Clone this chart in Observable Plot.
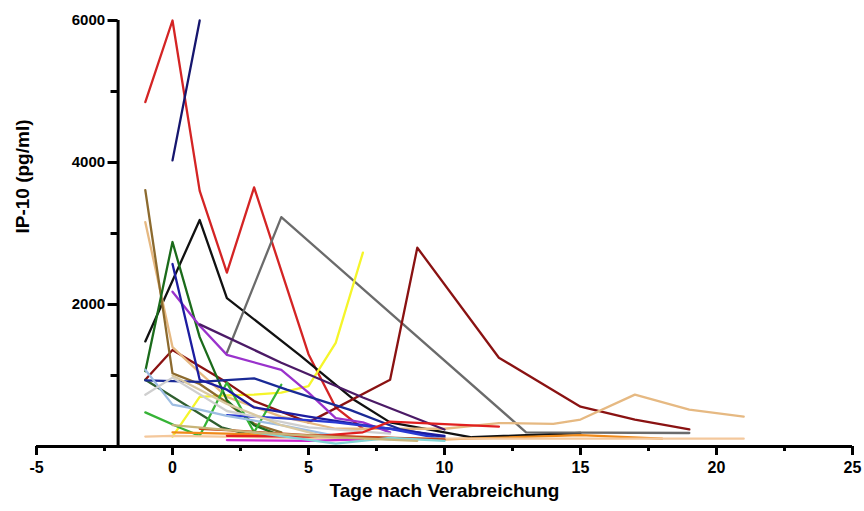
<!DOCTYPE html>
<html><head><meta charset="utf-8">
<script src="https://cdn.jsdelivr.net/npm/d3@7"></script>
<script src="https://cdn.jsdelivr.net/npm/@observablehq/plot@0.6"></script>
<style>body{margin:0;background:#fff}</style>
</head><body><div id="chart"></div>
<script>
// one entry per patient series: days after administration and IP-10 values
const seriesDays = [
  [-1, 0, 1, 2, 3, 5, 6, 7],                 // red
  [0, 1],                                     // navy
  [-1, 1, 2, 4.7, 6.7, 8, 10, 11, 15],        // black
  [2, 4, 13, 19],                             // gray
  [0, 1, 2, 3, 4, 5, 6, 7],                   // yellow
  [-1, 0, 2, 3, 5, 8, 9, 12, 15, 17, 19],     // maroon
  [-1, 0, 1, 2, 4, 6, 10, 12, 14, 15, 17, 19, 21], // sandy tan
  [-1, 0, 1, 2, 3, 4],                        // brown
  [-1, 0, 1, 2, 3, 4],                        // dark green
  [-1, 1.8, 3],                               // dark green 2
  [-1, 0.3, 1, 2, 3, 4],                      // bright green
  [0, 1, 2, 4, 5, 6, 7, 8],                   // violet
  [1, 4, 7, 10],                              // dark purple
  [-1, 1, 3, 4.2, 6.5, 8.4, 10],              // navy 2
  [0, 1, 2, 3, 5, 7, 10],                     // blue
  [2, 4, 6, 8, 10],                           // royal blue
  [-1, 0, 1, 2, 4, 6, 8],                     // light blue
  [-1, 0, 2, 5, 8],                           // light gray
  [0, 2, 4, 6],                               // beige
  [0, 2, 5, 10, 15, 18],                      // orange
  [-1, 0, 5, 10, 15, 21],                     // peach
  [2, 5, 7, 8, 12],                           // red 2
  [2, 5, 7],                                  // magenta
  [1, 2, 5, 10],                              // rust
  [3, 6, 8, 10],                              // cyan
  [0, 3, 6, 9]                                // olive
];
const seriesValues = [
  [4850, 6000, 3600, 2450, 3650, 1300, 550, 250],
  [4030, 6000],
  [1480, 3190, 2090, 1280, 650, 340, 200, 130, 190],
  [1320, 3230, 200, 190],
  [140, 700, 720, 730, 760, 850, 1460, 2730],
  [940, 1360, 900, 640, 340, 940, 2800, 1250, 560, 380, 240],
  [3160, 1400, 1040, 700, 420, 250, 250, 330, 320, 380, 730, 520, 420],
  [3610, 1030, 880, 620, 320, 200],
  [1060, 2880, 1540, 650, 300, 150],
  [940, 270, 150],
  [480, 260, 150, 900, 200, 870],
  [2180, 1700, 1290, 1080, 760, 400, 340, 200],
  [1720, 1180, 690, 240],
  [930, 910, 960, 800, 520, 240, 130],
  [2570, 940, 800, 550, 420, 300, 150],
  [440, 400, 340, 250, 100],
  [1080, 590, 520, 430, 300, 150, 100],
  [730, 970, 500, 270, 180],
  [1000, 600, 300, 100],
  [200, 180, 150, 100, 160, 110],
  [140, 150, 120, 110, 110, 110],
  [150, 140, 200, 350, 280],
  [90, 80, 100],
  [250, 230, 160, 100],
  [200, 40, 120, 80],
  [300, 200, 130, 80]
];
const seriesColors = [
  "#d42424", "#16166e", "#111111", "#6b6b6b", "#f5f52a", "#8a1212",
  "#e6b982", "#8c6a2e", "#1b6b1b", "#2f5f2f", "#36b336", "#9a32cc",
  "#4b1a66", "#1a2a96", "#1c1ca0", "#2a3ad2", "#9dbde2", "#cfcfcf",
  "#d9c9a2", "#f08a1a", "#f4c89c", "#e02020", "#cc22cc", "#c2451a",
  "#7fd4d4", "#c8b478"
];
const xMajorTicks = [-5, 0, 5, 10, 15, 20, 25];
const xMinorTicks = [-2.5, 2.5, 7.5, 12.5, 17.5, 22.5];
const yMajorTicks = [2000, 4000, 6000];
const yMinorTicks = [1000, 3000, 5000];
const yAxisAt = -2;
const xLabel = "Tage nach Verabreichung";
const yLabel = "IP-10 (pg/ml)";

const rows = seriesDays.flatMap((days, i) =>
  days.map((d, j) => ({series: i, day: d, value: seriesValues[i][j], color: seriesColors[i]})));

const font = "'Liberation Sans', Arial, Helvetica, sans-serif";

const chart = Plot.plot({
  width: 864, height: 511,
  marginLeft: 36, marginRight: 12, marginTop: 20, marginBottom: 65,
  x: {domain: [-5, 25]},
  y: {domain: [0, 6000], axis: null},
  color: {type: "identity"},
  style: {fontFamily: font, background: "white", color: "black"},
  marks: [
    Plot.line(rows, {x: "day", y: "value", z: "series", stroke: "color", strokeWidth: 2.3}),
    Plot.ruleY([0], {stroke: "black", strokeWidth: 3}),
    Plot.axisX(xMajorTicks, {tickSize: 9, strokeWidth: 3, tickPadding: 6, fontSize: 16, fontWeight: "bold",
      tickFormat: d => String(d), label: null, fill: "black"}),
    Plot.axisX(xMinorTicks, {tickSize: 5, strokeWidth: 3, text: null, label: null}),
    Plot.ruleX([yAxisAt], {y1: 0, y2: 6000, stroke: "black", strokeWidth: 3}),
    Plot.ruleY(yMajorTicks, {x1: yAxisAt - 0.37, x2: yAxisAt, stroke: "black", strokeWidth: 3}),
    Plot.ruleY(yMinorTicks, {x1: yAxisAt - 0.26, x2: yAxisAt, stroke: "black", strokeWidth: 3}),
    Plot.text(yMajorTicks, {x: yAxisAt, y: d => d, dx: -13, textAnchor: "end", fontSize: 15,
      fontWeight: "bold", text: d => String(d), fill: "black"}),
    Plot.text([xLabel], {frameAnchor: "bottom", dy: 50, fontSize: 19, fontWeight: "bold", text: d => d, fill: "black"}),
    Plot.text([yLabel], {frameAnchor: "left", dx: -14, rotate: -90, fontSize: 19, fontWeight: "bold", text: d => d, fill: "black"})
  ]
});
document.getElementById("chart").appendChild(chart);
</script>
</body></html>
